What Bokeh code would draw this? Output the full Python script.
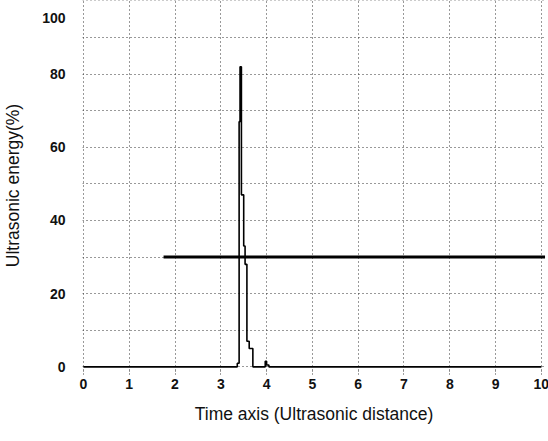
from bokeh.plotting import figure
from bokeh.models import FixedTicker, Range1d
from bokeh.embed import file_html
from bokeh.resources import INLINE

# Echo signal (step values)
time_x = [0.0, 3.36, 3.40, 3.42, 3.45, 3.50, 3.53, 3.57, 3.62, 3.70, 3.97, 4.00, 4.05, 10.0]
energy = [0.0, 1.0, 67.0, 82.0, 47.0, 33.0, 28.0, 7.0, 5.0, 0.0, 1.5, 0.5, 0.0, 0.0]

# Threshold line
thr_x = [1.75, 10.08]
thr_y = [30, 30]

x_ticks = [0, 1, 2, 3, 4, 5, 6, 7, 8, 9, 10]
y_ticks = [0, 20, 40, 60, 80, 100]
y_minor = [10, 30, 50, 70, 90]

x_title = "Time axis (Ultrasonic distance)"
y_title = "Ultrasonic energy(%)"

p = figure(output_backend="svg", toolbar_location=None,
           frame_width=463, frame_height=370,
           x_range=Range1d(-0.02, 10.09), y_range=Range1d(-1.0, 100.1),
           min_border_left=72, min_border_top=0, min_border_right=4,
           min_border_bottom=4)
p.outline_line_color = None
p.background_fill_color = "white"
p.border_fill_color = "white"

p.step(time_x, energy, mode="after", line_color="black", line_width=1.6)
p.line(thr_x, thr_y, line_color="black", line_width=3)

for ax in (p.xaxis[0], p.yaxis[0]):
    ax.axis_line_color = None
    ax.minor_tick_line_color = None
    ax.major_label_text_font = "Liberation Sans"
    ax.major_label_text_font_style = "bold"
    ax.major_label_text_font_size = "14px"
    ax.major_label_text_color = "#111111"
    ax.axis_label_text_font = "Liberation Sans"
    ax.axis_label_text_font_style = "normal"
    ax.axis_label_text_font_size = "17.5px"
    ax.axis_label_text_color = "#111111"

p.yaxis.major_tick_line_color = None
p.xaxis.major_tick_line_color = "#444444"
p.xaxis.major_tick_line_dash = "1 2"
p.xaxis.major_tick_in = 0
p.xaxis.major_tick_out = 4

p.xaxis.ticker = FixedTicker(ticks=x_ticks)
p.yaxis.ticker = FixedTicker(ticks=y_ticks, minor_ticks=y_minor)
# top label sits just below its grid line, as in the original
p.yaxis.major_label_overrides = {100: "\n100"}
p.yaxis.major_label_text_line_height = 0.6
p.xaxis.major_label_standoff = 4
p.yaxis.major_label_standoff = 11
p.xaxis.axis_label = x_title
p.yaxis.axis_label = y_title
p.xaxis.axis_label_standoff = 12
p.yaxis.axis_label_standoff = 16

p.xgrid.grid_line_color = "#333333"
p.xgrid.grid_line_dash = "1 3"
p.xgrid.grid_line_width = 1
p.ygrid.grid_line_color = "#333333"
p.ygrid.grid_line_dash = "1 3"
p.ygrid.grid_line_width = 1
p.ygrid.minor_grid_line_color = "#333333"
p.ygrid.minor_grid_line_dash = "1 3"

open("out.html", "w").write(file_html(p, INLINE))
